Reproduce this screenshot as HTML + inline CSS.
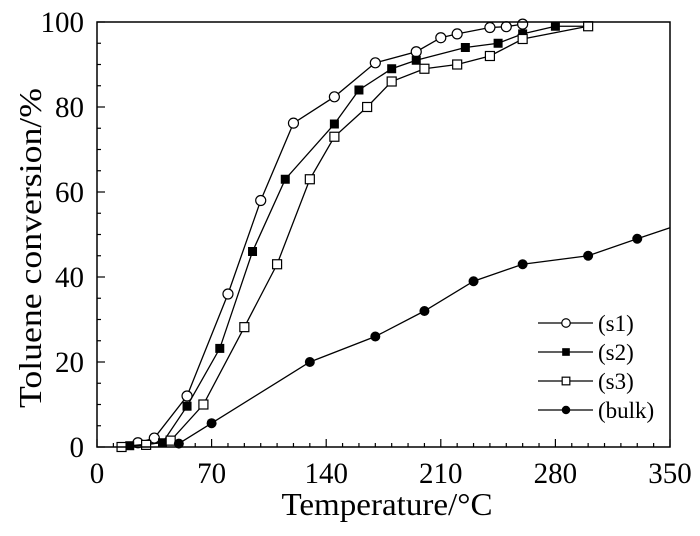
<!DOCTYPE html>
<html><head><meta charset="utf-8"><style>
html,body{margin:0;padding:0;background:#fff}
svg{display:block;font-family:"Liberation Serif",serif}
</style></head><body>
<svg id="chart" width="700" height="536" xmlns="http://www.w3.org/2000/svg">
<g id="grid"></g>
<g id="series"></g>
<rect x="97" y="22" width="573" height="425" fill="none" stroke="#000" stroke-width="1.5"/>
<text x="387" y="515" font-size="32" text-anchor="middle" textLength="211" lengthAdjust="spacingAndGlyphs">Temperature/°C</text>
<text transform="translate(41,248) rotate(-90)" font-size="32" text-anchor="middle" textLength="320" lengthAdjust="spacingAndGlyphs">Toluene conversion/%</text>
<g id="legend"></g>
</svg>
<script>
const xTicks=[0,70,140,210,280,350];
const yTicks=[0,20,40,60,80,100];
const seriesNames=["(s1)","(s2)","(s3)","(bulk)"];
const s1T=[25,35,55,80,100,120,145,170,195,210,220,240,250,260];
const s1V=[1,2.1,12,36,58,76.2,82.4,90.4,93,96.3,97.2,98.7,98.9,99.5];
const s2T=[20,40,55,75,95,115,145,160,180,195,225,245,260,280,300];
const s2V=[0.3,1,9.6,23.2,46,63,76,84,89,91,94,95,97.2,99,99];
const s3T=[15,30,45,65,90,110,130,145,165,180,200,220,240,260,300];
const s3V=[0,0.5,1.5,10,28.2,43,63,73,80,86,89,90,92,96,99];
const bulkT=[50,70,130,170,200,230,260,300,330,350];
const bulkV=[0.8,5.6,20,26,32,39,43,45,49,51.6];
const NS="http://www.w3.org/2000/svg";
const X=t=>97+t*573/350, Y=v=>447-v*4.25;
function mk(tag,attrs,parent){const e=document.createElementNS(NS,tag);for(const k in attrs)e.setAttribute(k,attrs[k]);parent.appendChild(e);return e;}
const grid=document.getElementById('grid');
for(let t=0;t<=350;t+=10){
  const major=t%70===0;
  const l=mk('line',{x1:X(t),x2:X(t),y1:447,y2:major?439:443,stroke:'#000','stroke-width':1.2},grid);
  
  
}
xTicks.forEach(t=>{const e=mk('text',{x:X(t),y:483,'font-size':30,'text-anchor':'middle',textLength:String(t).length*14.5,lengthAdjust:'spacingAndGlyphs'},grid);e.textContent=t;
  
  });
for(let v=0;v<=100;v+=5){
  const major=v%20===0;
  const l=mk('line',{x1:97,x2:major?105:101,y1:Y(v),y2:Y(v),stroke:'#000','stroke-width':1.2},grid);
  
  
}
yTicks.forEach(v=>{const e=mk('text',{x:84,y:Y(v)+10,'font-size':30,'text-anchor':'end',textLength:String(v).length*14.5,lengthAdjust:'spacingAndGlyphs'},grid);e.textContent=v;
  
  });
function marker(type,cx,cy,p,s){
  s=s||1;
  if(type==='oc')return mk('circle',{cx,cy,r:5*s,fill:'#fff',stroke:'#000','stroke-width':1.2},p);
  if(type==='fc')return mk('circle',{cx,cy,r:5*s,fill:'#000'},p);
  if(type==='fs')return mk('rect',{x:cx-4.5*s,y:cy-4.5*s,width:9*s,height:9*s,fill:'#000'},p);
  return mk('rect',{x:cx-4.5*s,y:cy-4.5*s,width:9*s,height:9*s,fill:'#fff',stroke:'#000','stroke-width':1.2},p);
}
const ser=document.getElementById('series');
const all=[[s1T,s1V,'oc'],[s2T,s2V,'fs'],[s3T,s3V,'os'],[bulkT,bulkV,'fc']];
all.forEach(([T,V,m],i)=>{
  const g=mk('g',{},ser);
  
  
  const pl=mk('polyline',{points:T.map((t,j)=>X(t)+','+Y(V[j])).join(' '),fill:'none',stroke:'#000','stroke-width':1.3},g);
  
  
  T.forEach((t,j)=>{
    if(m==='fc'&&t===350)return;
    const e=marker(m,X(t),Y(V[j]),g);
    
    
  });
});
const leg=document.getElementById('legend');
const ly=[323,352,381,410];
['oc','fs','os','fc'].forEach((m,i)=>{
  const g=mk('g',{},leg);
  
  
  mk('line',{x1:538,x2:593,y1:ly[i],y2:ly[i],stroke:'#000','stroke-width':1.3},g);
  marker(m,566,ly[i],g,0.85);
  const t=mk('text',{x:598,y:ly[i]+8,'font-size':23},g);t.textContent=seriesNames[i];
});
</script>
</body></html>
